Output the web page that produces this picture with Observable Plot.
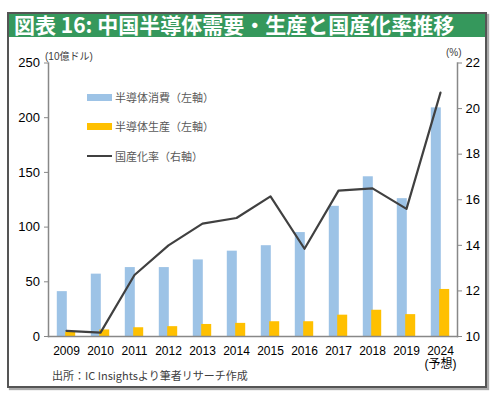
<!DOCTYPE html>
<html><head><meta charset="utf-8">
<script src="https://cdn.jsdelivr.net/npm/d3@7"></script>
<script src="https://cdn.jsdelivr.net/npm/@observablehq/plot@0.6"></script>
<style>
  html,body{margin:0;padding:0;background:#fff;}
  body{width:500px;height:398px;position:relative;overflow:hidden;font-family:"Liberation Sans",Arial,"Noto Sans CJK JP",sans-serif;}
  .abs{position:absolute;white-space:nowrap;}
  #frame{position:absolute;left:7px;top:12px;width:476px;height:372px;border:2px solid #555;box-shadow:2px 2px 1px #aaa;pointer-events:none;}
  #title{position:absolute;left:9px;top:12px;width:476px;height:25px;background:#35985c;color:#fff;font-family:"Noto Sans CJK JP",sans-serif;font-weight:bold;font-size:21px;line-height:25px;padding-left:5px;box-sizing:border-box;}
  #chart{position:absolute;left:0;top:37px;}
  .leg{font-family:"Noto Sans CJK JP",sans-serif;font-size:11px;color:#595959;line-height:12px;}
  .unit{font-family:"Liberation Sans","Noto Sans CJK JP",sans-serif;font-size:10px;color:#404040;}
</style>
</head><body>
<div id="chart"></div>
<div id="title">図表 16: 中国半導体需要・生産と国産化率推移</div>
<div class="abs unit" style="left:45px;top:48px;">(10億ドル)</div>
<div class="abs unit" style="left:446px;top:47px;">(%)</div>
<div class="abs" style="left:87px;top:94px;width:25px;height:7px;background:#9dc3e6;"></div>
<div class="abs leg" style="left:115px;top:91px;">半導体消費（左軸）</div>
<div class="abs" style="left:87px;top:123px;width:25px;height:7px;background:#ffc000;"></div>
<div class="abs leg" style="left:115px;top:120px;">半導体生産（左軸）</div>
<div class="abs" style="left:87px;top:155px;width:25px;height:2px;background:#404040;"></div>
<div class="abs leg" style="left:115px;top:150px;">国産化率（右軸）</div>
<div class="abs leg" style="left:52px;top:369px;color:#404040;">出所：IC Insightsより筆者リサーチ作成</div>
<div id="frame"></div>
<script>
const years = ["2009","2010","2011","2012","2013","2014","2015","2016","2017","2018","2019","2024"];
const consumption = [41, 57, 63, 63, 70, 78, 83, 95, 119, 146, 126, 209];
const production = [4, 6, 8, 9, 11, 12, 13.5, 13.5, 19.5, 24, 20, 43];
const rate = [10.25, 10.17, 12.7, 14.0, 14.95, 15.2, 16.15, 13.85, 16.4, 16.5, 15.6, 20.7];
const leftTicks = [0, 50, 100, 150, 200, 250];
const rightTicks = [10, 12, 14, 16, 18, 20, 22];

const toLeft = p => (p - 10) * 250 / 12;
const toRight = v => Math.round((v * 12 / 250 + 10) * 1000) / 1000;

const rows = years.map((y, i) => ({year: y, cons: consumption[i], prod: production[i], rate: toLeft(rate[i])}));

const chart = Plot.plot({
  width: 500,
  height: 345,
  marginLeft: 48,
  marginRight: 43,
  marginTop: 25.5,
  marginBottom: 46,
  style: {background: "transparent", fontFamily: "'Liberation Sans', Arial, 'Noto Sans CJK JP', sans-serif", color: "#000"},
  x: {type: "band", domain: years, padding: 0, label: null},
  y: {domain: [0, 250], label: null},
  marks: [
    Plot.barY(rows, {x: "year", y: "cons", fill: "#9dc3e6", insetLeft: 7.8, insetRight: 16.2}),
    Plot.barY(rows, {x: "year", y: "prod", fill: "#ffc000", insetLeft: 16.2, insetRight: 7.8}),
    Plot.line(rows, {x: "year", y: "rate", stroke: "#404040", strokeWidth: 2.2}),
    Plot.frame({anchor: "left", stroke: "#888", strokeWidth: 1.5}),
    Plot.frame({anchor: "right", stroke: "#888", strokeWidth: 1.5}),
    Plot.frame({anchor: "bottom", stroke: "#888", strokeWidth: 1.5}),
    Plot.axisY({anchor: "left", ticks: leftTicks, tickSize: 4, tickPadding: 4.5, fontSize: 13, stroke: "#888", fill: "#000", label: null}),
    Plot.axisY({anchor: "right", ticks: rightTicks.map(toLeft), tickFormat: v => String(toRight(v)), tickSize: 4, tickPadding: 4, fontSize: 13, stroke: "#888", fill: "#000", label: null}),
    Plot.axisX({anchor: "bottom", tickSize: 0, tickPadding: 9, fontSize: 12, fill: "#000", lineHeight: 1.1, tickFormat: d => d === "2024" ? "2024\n(予想)" : d, label: null})
  ]
});
document.getElementById("chart").appendChild(chart);
</script>
</body></html>
